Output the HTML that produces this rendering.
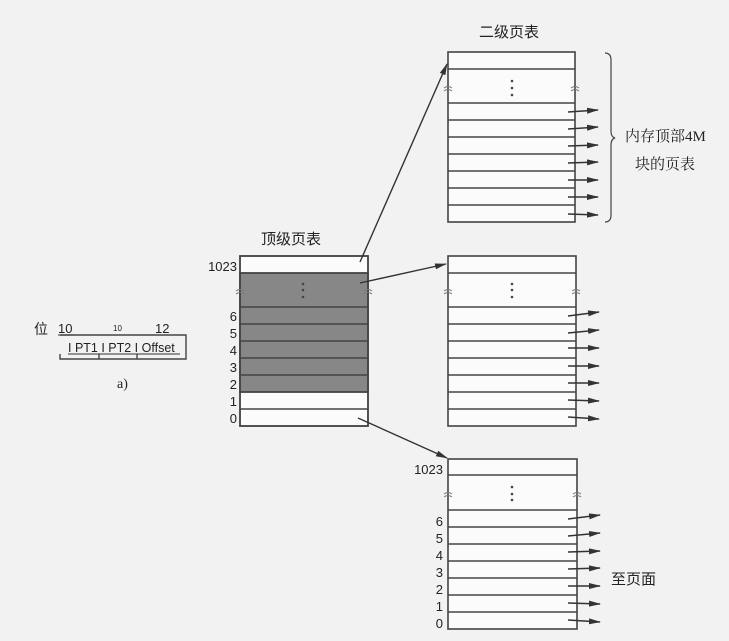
<!DOCTYPE html>
<html><head><meta charset="utf-8"><style>
html,body{margin:0;padding:0;background:#f2f2f2;}
svg{display:block;}
text{font-family:"Liberation Sans","Noto Sans CJK SC",sans-serif;fill:#222;}
.s{font-family:"Liberation Serif","Noto Serif CJK SC",serif;}
</style></head><body>
<svg width="729" height="641" viewBox="0 0 729 641" xmlns="http://www.w3.org/2000/svg">
<defs>
<marker id="a" markerWidth="12" markerHeight="8" refX="11" refY="4" orient="auto" markerUnits="userSpaceOnUse">
<path d="M0,1 L12,4 L0,7 z" fill="#333"/></marker>
</defs>
<rect width="729" height="641" fill="#f2f2f2"/>
<g stroke="#444" stroke-width="1.6" fill="none">
<rect x="240" y="256" width="128" height="170" fill="#fbfbfb"/>
<rect x="240" y="273" width="128" height="119" fill="#878787"/>
<line x1="240" y1="273" x2="368" y2="273"/>
<line x1="240" y1="307" x2="368" y2="307"/>
<line x1="240" y1="324" x2="368" y2="324"/>
<line x1="240" y1="341" x2="368" y2="341"/>
<line x1="240" y1="358" x2="368" y2="358"/>
<line x1="240" y1="375" x2="368" y2="375"/>
<line x1="240" y1="392" x2="368" y2="392"/>
<line x1="240" y1="409" x2="368" y2="409"/>
<rect x="240" y="256" width="128" height="170"/>
<rect x="448" y="52" width="127" height="170" fill="#fbfbfb"/>
<line x1="448" y1="69" x2="575" y2="69"/>
<line x1="448" y1="103" x2="575" y2="103"/>
<line x1="448" y1="120" x2="575" y2="120"/>
<line x1="448" y1="137" x2="575" y2="137"/>
<line x1="448" y1="154" x2="575" y2="154"/>
<line x1="448" y1="171" x2="575" y2="171"/>
<line x1="448" y1="188" x2="575" y2="188"/>
<line x1="448" y1="205" x2="575" y2="205"/>
<rect x="448" y="256" width="128" height="170" fill="#fbfbfb"/>
<line x1="448" y1="273" x2="576" y2="273"/>
<line x1="448" y1="307" x2="576" y2="307"/>
<line x1="448" y1="324" x2="576" y2="324"/>
<line x1="448" y1="341" x2="576" y2="341"/>
<line x1="448" y1="358" x2="576" y2="358"/>
<line x1="448" y1="375" x2="576" y2="375"/>
<line x1="448" y1="392" x2="576" y2="392"/>
<line x1="448" y1="409" x2="576" y2="409"/>
<rect x="448" y="459" width="129" height="170" fill="#fbfbfb"/>
<line x1="448" y1="475" x2="577" y2="475"/>
<line x1="448" y1="510" x2="577" y2="510"/>
<line x1="448" y1="527" x2="577" y2="527"/>
<line x1="448" y1="544" x2="577" y2="544"/>
<line x1="448" y1="561" x2="577" y2="561"/>
<line x1="448" y1="578" x2="577" y2="578"/>
<line x1="448" y1="595" x2="577" y2="595"/>
<line x1="448" y1="612" x2="577" y2="612"/>
<path d="M605,53 Q611,53 611,60 L611,131 Q611,137 615,138 Q611,139 611,145 L611,215 Q611,222 605,222" stroke-width="1.2"/>
<path d="M60,335 L186,335 L186,359 L60,359 L60,354 M99,354 L99,359 M137,354 L137,359" stroke-width="1.4"/>
</g>
<g stroke="#333" stroke-width="1.4" fill="none" marker-end="url(#a)">
<line x1="360" y1="262" x2="447" y2="64"/>
<line x1="360" y1="283" x2="446" y2="264"/>
<line x1="358" y1="418" x2="447" y2="458"/>
<line x1="568" y1="112" x2="598" y2="110"/>
<line x1="568" y1="129" x2="598" y2="127"/>
<line x1="568" y1="146" x2="598" y2="145"/>
<line x1="568" y1="163" x2="598" y2="162"/>
<line x1="568" y1="180" x2="598" y2="180"/>
<line x1="568" y1="197" x2="598" y2="197"/>
<line x1="568" y1="214" x2="598" y2="215"/>
<line x1="568" y1="316" x2="599" y2="312"/>
<line x1="568" y1="333" x2="599" y2="330"/>
<line x1="568" y1="348" x2="599" y2="348"/>
<line x1="568" y1="366" x2="599" y2="366"/>
<line x1="568" y1="383" x2="599" y2="383"/>
<line x1="568" y1="400" x2="599" y2="401"/>
<line x1="568" y1="417" x2="599" y2="419"/>
<line x1="568" y1="519" x2="600" y2="515"/>
<line x1="568" y1="536" x2="600" y2="533"/>
<line x1="568" y1="552" x2="600" y2="551"/>
<line x1="568" y1="569" x2="600" y2="568"/>
<line x1="568" y1="586" x2="600" y2="586"/>
<line x1="568" y1="603" x2="600" y2="604"/>
<line x1="568" y1="620" x2="600" y2="622"/>
</g>
<g fill="#444">
<circle cx="303" cy="284" r="1.3"/><circle cx="303" cy="290" r="1.3"/><circle cx="303" cy="297" r="1.3"/>
<circle cx="512" cy="81" r="1.3"/><circle cx="512" cy="88" r="1.3"/><circle cx="512" cy="95" r="1.3"/>
<circle cx="512" cy="284" r="1.3"/><circle cx="512" cy="290" r="1.3"/><circle cx="512" cy="297" r="1.3"/>
<circle cx="512" cy="487" r="1.3"/><circle cx="512" cy="494" r="1.3"/><circle cx="512" cy="500" r="1.3"/>
</g>
<g stroke="#777" stroke-width="1" fill="none">
<path d="M236,291 q4,-3 8,0 M236,294 q4,-3 8,0"/>
<path d="M364,291 q4,-3 8,0 M364,294 q4,-3 8,0"/>
<path d="M444,88 q4,-3 8,0 M444,91 q4,-3 8,0"/>
<path d="M571,88 q4,-3 8,0 M571,91 q4,-3 8,0"/>
<path d="M444,291 q4,-3 8,0 M444,294 q4,-3 8,0"/>
<path d="M572,291 q4,-3 8,0 M572,294 q4,-3 8,0"/>
<path d="M444,494 q4,-3 8,0 M444,497 q4,-3 8,0"/>
<path d="M573,494 q4,-3 8,0 M573,497 q4,-3 8,0"/>
</g>
<text x="261" y="244" font-size="15">顶级页表</text>
<text x="479" y="37" font-size="15">二级页表</text>
<text x="625" y="141" font-size="15" class="s">内存顶部4M</text>
<text x="635" y="169" font-size="15" class="s">块的页表</text>
<text x="611" y="584" font-size="15">至页面</text>
<g font-size="13" text-anchor="end">
<text x="237" y="271">1023</text>
<text x="237" y="321">6</text><text x="237" y="338">5</text><text x="237" y="355">4</text>
<text x="237" y="372">3</text><text x="237" y="389">2</text><text x="237" y="406">1</text><text x="237" y="423">0</text>
<text x="443" y="474">1023</text>
<text x="443" y="526">6</text><text x="443" y="543">5</text><text x="443" y="560">4</text>
<text x="443" y="577">3</text><text x="443" y="594">2</text><text x="443" y="611">1</text><text x="443" y="628">0</text>
</g>
<text x="34" y="334" font-size="14">位</text>
<text x="58" y="333" font-size="13">10</text>
<line x1="58" y1="335" x2="73" y2="335" stroke="#333"/>
<text x="113" y="331" font-size="8">10</text>
<text x="155" y="333" font-size="13">12</text>
<text x="68" y="352" font-size="12.5">I PT1 I PT2 I Offset</text>
<line x1="68" y1="354" x2="180" y2="354" stroke="#333" stroke-width="1"/>
<text x="117" y="388" font-size="14" class="s">a)</text>
</svg>
</body></html>
